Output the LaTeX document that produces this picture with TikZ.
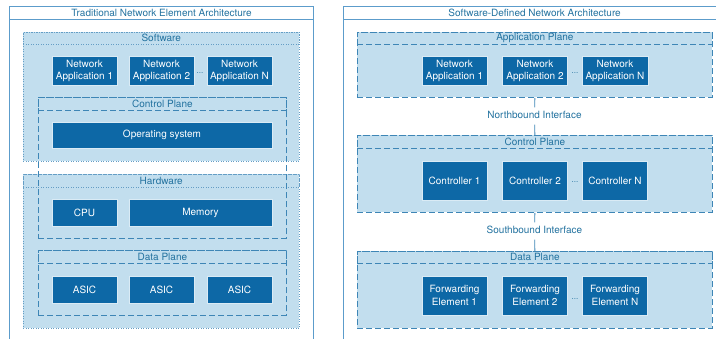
\documentclass[tikz,border=0pt]{standalone}
\usepackage{fontspec}
\setmainfont{TeX Gyre Heros}
\usetikzlibrary{positioning}

\definecolor{sdnDark}{HTML}{0D68A6}
\definecolor{sdnLight}{HTML}{C2DEEE}
\definecolor{sdnEdge}{HTML}{3E86B6}
\definecolor{sdnFrame}{HTML}{5C9CCB}
\definecolor{sdnText}{HTML}{23729F}

\tikzset{
  box/.style={anchor=north west, inner sep=0pt},
  frame/.style={draw=sdnFrame, line width=1.2pt},
  solidline/.style={draw=sdnFrame, line width=1.2pt},
  dotline/.style={draw=sdnEdge!80, line width=0.5pt, dotted},
  dashline/.style={draw=sdnEdge, line width=0.8pt, dash pattern=on 6pt off 3pt},
  strip/.style={anchor=north, inner sep=0pt, minimum height=13pt, text=sdnText,
    font=\fontsize{10}{12}\selectfont},
  block/.style={fill=sdnDark, draw=sdnLight!60!white, line width=0.4pt, text=white,
    align=center, minimum width=65pt, font=\fontsize{10}{12.5}\selectfont},
  dots/.style={text=sdnText, inner sep=0pt, font=\fontsize{8}{9}\selectfont},
  iface/.style={text=sdnText, inner sep=4pt, text height=7pt, text depth=2pt,
    font=\fontsize{10}{12}\selectfont},
  link/.style={draw=sdnEdge, line width=0.8pt}
}

\begin{document}
\begin{tikzpicture}[x=1pt,y=-1pt]
\useasboundingbox (0,0) rectangle (716,338);
\clip (0,0) rectangle (716,338);

% traditional element
\node[box, frame, minimum width=304pt, minimum height=345pt] (trad) at (9,6) {};
\node[strip, solidline, minimum width=304pt] at (trad.north) {Traditional Network Element Architecture};

\node[box, dotline, fill=sdnLight, minimum width=276pt, minimum height=129pt] (sw) at (23,32) {};
\node[strip, dotline, minimum width=276pt, minimum height=12pt] at (sw.north) {Software};
\node[box, dotline, fill=sdnLight, minimum width=276pt, minimum height=154pt] (hw) at (23,174) {};
\node[strip, dotline, minimum width=276pt] at (hw.north) {Hardware};

\node[box, dashline, minimum width=248pt, minimum height=141pt] (tcp) at (38,97) {};
\node[strip, dashline, minimum width=248pt] at (tcp.north) {Control Plane};
\node[box, dashline, minimum width=248pt, minimum height=65pt] (tdp) at (38,250) {};
\node[strip, dashline, minimum width=248pt] at (tdp.north) {Data Plane};

\foreach \i/\x/\name in {1/84.5/1,2/161.5/2,3/239.5/N}
  \node[block, minimum height=28pt] (tapp\i) at (\x,71) {Network\\Application \name};
\node[dots] (tdots) at (200,73) {...};

\node[block, minimum width=220pt, minimum height=26pt] (os) at (162,135) {Operating system};
\node[block, minimum height=27pt] (cpu) at (84.5,212.5) {CPU};
\node[block, minimum width=143pt, minimum height=27pt] (mem) at (200.5,212.5) {Memory};
\foreach \i/\x in {1/84.5,2/161.5,3/239.5}
  \node[block, minimum height=27pt] (asic\i) at (\x,289.5) {ASIC};

% software-defined network
\node[box, frame, minimum width=382pt, minimum height=345pt] (sdn) at (343,6) {};
\node[strip, solidline, minimum width=382pt] at (sdn.north) {Software-Defined Network Architecture};

\node[box, dashline, fill=sdnLight, minimum width=355pt, minimum height=65pt] (ap) at (357,32) {};
\node[strip, dashline, minimum width=355pt, minimum height=12pt] at (ap.north) {Application Plane};
\node[box, dashline, fill=sdnLight, minimum width=355pt, minimum height=77pt] (cp) at (357,135) {};
\node[strip, dashline, minimum width=355pt] at (cp.north) {Control Plane};
\node[box, dashline, fill=sdnLight, minimum width=355pt, minimum height=77pt] (dp) at (357,251) {};
\node[strip, dashline, minimum width=355pt, minimum height=12pt] at (dp.north) {Data Plane};

\foreach \i/\x/\name in {1/454.5/1,2/535/2,3/615/N}
{
  \node[block, minimum height=28pt] (app\i) at (\x,71) {Network\\Application \name};
  \node[block, minimum height=39pt] (ctl\i) at (\x,180.5) {Controller \name};
  \node[block, minimum height=39pt] (fwd\i) at (\x,295.5) {Forwarding\\Element \name};
}
\node[dots] (adots) at (575,73) {...};
\node[dots] (cdots) at (575,182) {...};
\node[dots] (fdots) at (575,299) {...};

\node[iface] (nbi) at (534.5,116) {Northbound Interface};
\node[iface] (sbi) at (534.5,231) {Southbound Interface};
\draw[link] (ap.south) -- (nbi);
\draw[link] (nbi) -- (cp.north);
\draw[link] (cp.south) -- (sbi);
\draw[link] (sbi) -- (dp.north);

\end{tikzpicture}
\end{document}
